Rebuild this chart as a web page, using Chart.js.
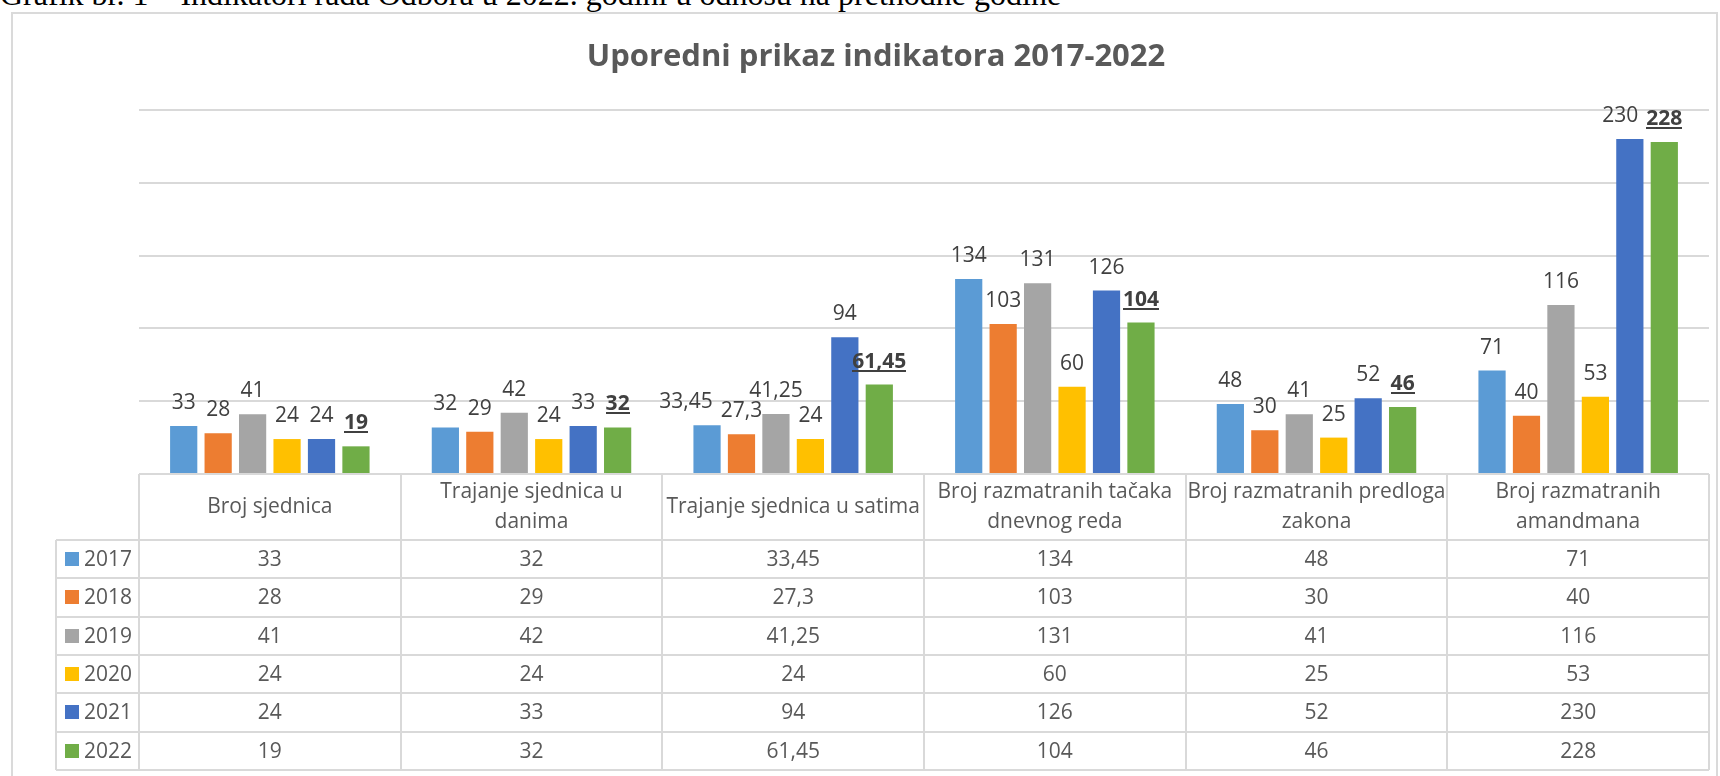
<!DOCTYPE html>
<html>
<head>
<meta charset="utf-8">
<title>Uporedni prikaz indikatora 2017-2022</title>
<script src="https://cdn.jsdelivr.net/npm/chart.js@4.4.1/dist/chart.umd.min.js"></script>
<style>
  html, body { margin: 0; padding: 0; background: #fff; overflow: hidden; }
  .page { position: relative; width: 1720px; height: 776px; }
  .caption {
    position: absolute; left: 0; top: -22px;
    font: 32px/32px "Liberation Serif", "Times New Roman", serif;
    color: #000; white-space: nowrap;
  }
  .frame {
    position: absolute; left: 11px; top: 12px; width: 1707px; height: 800px;
    border: 2px solid #dadada; box-sizing: border-box;
  }
  canvas { position: absolute; left: 0; top: 0; }
</style>
</head>
<body>
<div class="page">
  <div class="caption">Grafik br. 1 – Indikatori rada Odbora u 2022. godini u odnosu na prethodne godine</div>
  <div class="frame"></div>
  <canvas id="chart" width="1720" height="776"></canvas>
</div>
<script>
const TITLE = 'Uporedni prikaz indikatora 2017-2022';

const CATEGORIES = [
  ['Broj sjednica'],
  ['Trajanje sjednica u', 'danima'],
  ['Trajanje sjednica u satima'],
  ['Broj razmatranih tačaka', 'dnevnog reda'],
  ['Broj razmatranih predloga', 'zakona'],
  ['Broj razmatranih', 'amandmana'],
];

const YEARS = ['2017', '2018', '2019', '2020', '2021', '2022'];

const V2017 = [33, 32, 33.45, 134, 48, 71];
const V2018 = [28, 29, 27.3, 103, 30, 40];
const V2019 = [41, 42, 41.25, 131, 41, 116];
const V2020 = [24, 24, 24, 60, 25, 53];
const V2021 = [24, 33, 94, 126, 52, 230];
const V2022 = [19, 32, 61.45, 104, 46, 228];

const COLORS = ['#5B9BD5', '#ED7D31', '#A5A5A5', '#FFC000', '#4472C4', '#70AD47'];

const Y_MAX = 250;
const Y_STEP = 50;

const SERIES = [V2017, V2018, V2019, V2020, V2021, V2022];

const FONT = '"Open Sans", "Noto Sans", sans-serif';
const GRID = '#d9d9d9';
const TEXT = '#595959';
const LABEL = '#404040';

const fmt = (v) => String(v).replace('.', ',');

// title is centred on the outer frame, not on the plot area
const titlePlugin = {
  id: 'frameTitle',
  afterDraw(chart) {
    const { ctx } = chart;
    ctx.save();
    ctx.font = `bold 31px ${FONT}`;
    ctx.fillStyle = TEXT;
    ctx.textAlign = 'center';
    ctx.textBaseline = 'alphabetic';
    ctx.fillText(TITLE, 876, 66);
    ctx.restore();
  },
};

// value labels above every bar, last year bold and underlined
const labelPlugin = {
  id: 'barLabels',
  afterDatasetsDraw(chart) {
    const { ctx } = chart;
    const sets = chart.data.datasets;
    const last = sets.length - 1;
    ctx.save();
    ctx.textAlign = 'center';
    ctx.textBaseline = 'alphabetic';
    chart.data.labels.forEach((_, i) => {
      const items = sets.map((ds, d) => {
        const bar = chart.getDatasetMeta(d).data[i];
        const bold = d === last;
        ctx.font = `${bold ? 'bold ' : ''}21px ${FONT}`;
        const text = fmt(ds.data[i]);
        return { text, bold, x: bar.x, y: bar.y - 17, w: ctx.measureText(text).width };
      });
      // nudge a label left when it would run into its right-hand neighbour
      for (let k = items.length - 2; k >= 0; k--) {
        const a = items[k];
        const b = items[k + 1];
        const gap = (b.x - b.w / 2) - (a.x + a.w / 2);
        if (Math.abs(a.y - b.y) < 16 && gap < 8) a.x += gap - 8;
      }
      items.forEach((it) => {
        ctx.font = `${it.bold ? 'bold ' : ''}21px ${FONT}`;
        ctx.fillStyle = LABEL;
        ctx.fillText(it.text, it.x, it.y);
        if (it.bold) {
          ctx.fillRect(Math.round(it.x - it.w / 2), Math.round(it.y + 2), Math.round(it.w), 2);
        }
      });
    });
    ctx.restore();
  },
};

// data table under the plot, columns follow the category scale
const tablePlugin = {
  id: 'dataTable',
  afterDraw(chart) {
    const { ctx, chartArea, scales: { x } } = chart;
    const sets = chart.data.datasets;
    const cols = chart.data.labels.length;
    const colW = (chartArea.right - chartArea.left) / cols;
    const top = Math.round(chartArea.bottom);
    const headH = 66;
    const rowH = 38.3;
    const legendL = 56;
    const left = chartArea.left;
    const right = chartArea.right;
    const rowsTop = top + headH;
    const bottom = rowsTop + rowH * sets.length;

    ctx.save();
    ctx.strokeStyle = GRID;
    ctx.lineWidth = 2;
    const line = (x1, y1, x2, y2) => {
      ctx.beginPath();
      ctx.moveTo(Math.round(x1), Math.round(y1));
      ctx.lineTo(Math.round(x2), Math.round(y2));
      ctx.stroke();
    };

    line(left, top, right, top);
    for (let r = 0; r <= sets.length; r++) {
      line(legendL, rowsTop + r * rowH, right, rowsTop + r * rowH);
    }
    for (let c = 0; c <= cols; c++) {
      const cx = c < cols ? x.getPixelForValue(c) - colW / 2 : right;
      line(cx, top, cx, bottom);
    }
    line(legendL, rowsTop, legendL, bottom);

    ctx.textAlign = 'center';
    ctx.textBaseline = 'middle';
    ctx.fillStyle = TEXT;
    ctx.font = `21px ${FONT}`;

    // header cells
    chart.data.labels.forEach((lab, c) => {
      const lines = Array.isArray(lab) ? lab : [lab];
      const cx = x.getPixelForValue(c);
      const mid = top + headH / 2;
      lines.forEach((t, j) => {
        ctx.fillText(t, cx, mid + (j - (lines.length - 1) / 2) * 30);
      });
    });

    // rows: legend key + values
    sets.forEach((ds, r) => {
      const cy = rowsTop + r * rowH + rowH / 2;
      ctx.fillStyle = ds.backgroundColor;
      ctx.fillRect(65, Math.round(cy - 7), 14, 14);
      ctx.fillStyle = TEXT;
      ctx.textAlign = 'left';
      ctx.fillText(ds.label, 84, cy + 1);
      ctx.textAlign = 'center';
      ds.data.forEach((v, c) => {
        ctx.fillText(fmt(v), x.getPixelForValue(c), cy + 1);
      });
    });
    ctx.restore();
  },
};

new Chart(document.getElementById('chart'), {
  type: 'bar',
  data: {
    labels: CATEGORIES,
    datasets: YEARS.map((year, i) => ({
      label: year,
      data: SERIES[i],
      backgroundColor: COLORS[i],
      borderWidth: 0,
      categoryPercentage: 0.79,
      barPercentage: 0.79,
    })),
  },
  options: {
    responsive: false,
    animation: false,
    layout: { padding: { top: 110, bottom: 302, left: 139, right: 11 } },
    plugins: {
      legend: { display: false },
      title: { display: false },
      tooltip: { enabled: false },
    },
    scales: {
      x: { display: false },
      y: {
        min: 0,
        max: Y_MAX,
        ticks: { display: false, stepSize: Y_STEP },
        border: { display: false },
        grid: { color: GRID, lineWidth: 2, drawTicks: false },
      },
    },
  },
  plugins: [labelPlugin, tablePlugin, titlePlugin],
});
</script>
</body>
</html>
